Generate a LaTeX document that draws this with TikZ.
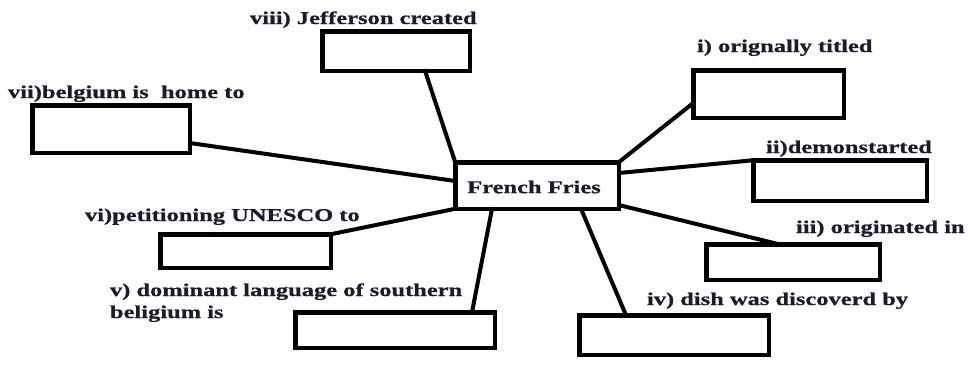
\documentclass[tikz,border=0pt]{standalone}
\usepackage{fontspec}
\setmainfont{Liberation Serif}[FakeStretch=1.36,BoldFeatures={FakeBold=0.8}]
\definecolor{ink}{RGB}{28,26,48}
\begin{document}
\begin{tikzpicture}[x=1pt,y=-1pt,
  ansbox/.style={draw=black,line width=4.5pt,inner sep=0pt,outer sep=0pt,fill=white},
  conn/.style={draw=black,line width=4pt,line cap=round},
  lab/.style={inner sep=0pt,outer sep=0pt,text=ink,font=\fontsize{18}{22}\selectfont\bfseries,anchor=base west}]
\useasboundingbox (0,0) rectangle (968,365);
\node[ansbox,minimum width=163.5pt,minimum height=46.5pt] (C) at (537,185.5) {};
\node[ansbox,minimum width=147.5pt,minimum height=39.5pt] (viii) at (396,51) {};
\node[ansbox,minimum width=157.5pt,minimum height=47.5pt] (vii) at (111,129) {};
\node[ansbox,minimum width=150.5pt,minimum height=47.5pt] (i) at (768.5,94) {};
\node[ansbox,minimum width=173.5pt,minimum height=40.5pt] (ii) at (840,180.5) {};
\node[ansbox,minimum width=173.5pt,minimum height=35.5pt] (iii) at (793,262) {};
\node[ansbox,minimum width=189.5pt,minimum height=39.5pt] (iv) at (674,335) {};
\node[ansbox,minimum width=199.5pt,minimum height=35.5pt] (v) at (395,330) {};
\node[ansbox,minimum width=170.5pt,minimum height=33.5pt] (vi) at (245.5,251) {};

\draw[conn] ([xshift=29pt]viii.south) -- (C.north west);
\draw[conn] ([yshift=-14pt]vii.east) -- ([yshift=4.5pt]C.west);
\draw[conn] ([yshift=-9pt]i.west) -- (C.north east);
\draw[conn] ([yshift=12.5pt]C.east) -- (ii.north west);
\draw[conn] ([yshift=-19.5pt]C.east) -- ([xshift=-14pt]iii.north);
\draw[conn] ([xshift=44pt]C.south) -- ([xshift=-48pt]iv.north);
\draw[conn] ([xshift=-45pt]C.south) -- ([xshift=77pt]v.north);
\draw[conn] (vi.north east) -- (C.south west);

\node[text=ink,font=\fontsize{18}{22}\selectfont\bfseries,inner sep=0pt] (Ct) at (534,187) {French Fries};

\node[lab] (lviii) at (250,24) {viii) Jefferson created};
\node[lab] (lvii) at (8,98) {vii)belgium is\ \ home to};
\node[lab] (li) at (697,52) {i) orignally titled};
\node[lab] (lii) at (766,153) {ii)demonstarted};
\node[lab] (liii) at (796,233) {iii) originated in};
\node[lab] (liv) at (647,305) {iv) dish was discoverd by};
\node[lab] (lv) at (110,296) {v) dominant language of southern};
\node[lab] (lv2) at (110,318) {beligium is};
\node[lab] (lvi) at (85,221) {vi)petitioning UNESCO to};
\end{tikzpicture}
\end{document}
